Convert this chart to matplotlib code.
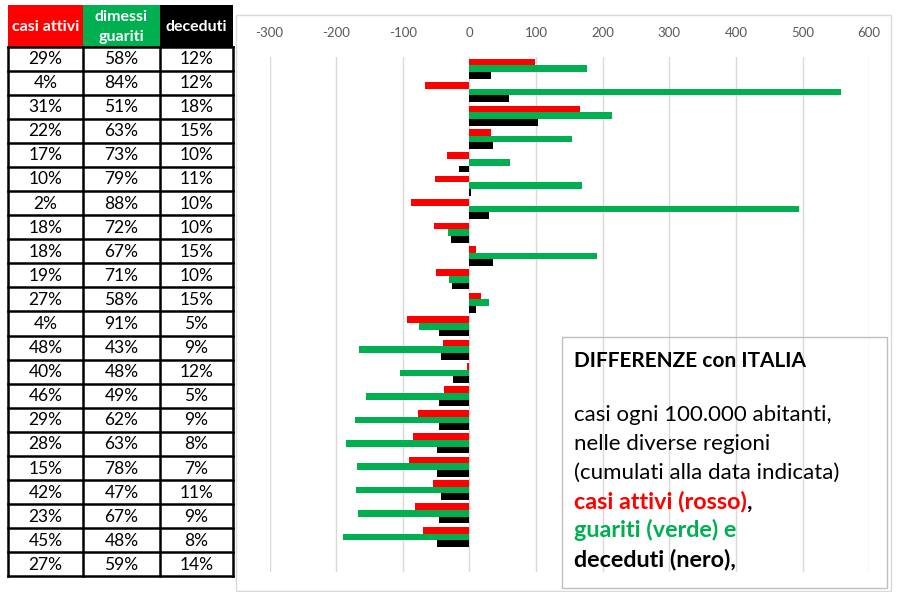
import numpy as np
import matplotlib
matplotlib.use('Agg')
import matplotlib.pyplot as plt
from matplotlib.patches import Rectangle

plt.rcParams['font.family'] = ['Lato', 'DejaVu Sans']

# quote percentuali (tabella a sinistra), ultima riga = Italia
casi_attivi_pct = [29, 4, 31, 22, 17, 10, 2, 18, 18, 19, 27, 4, 48, 40, 46, 29, 28, 15, 42, 23, 45, 27]
dimessi_pct = [58, 84, 51, 63, 73, 79, 88, 72, 67, 71, 58, 91, 43, 48, 49, 62, 63, 78, 47, 67, 48, 59]
deceduti_pct = [12, 12, 18, 15, 10, 11, 10, 10, 15, 10, 15, 5, 9, 12, 5, 9, 8, 7, 11, 9, 8, 14]

# differenze con Italia, casi ogni 100.000 abitanti
diff_attivi = [98, -66, 166, 32, -33, -52, -88, -53, 10, -50, 18, -94, -39, -4, -38, -77, -84, -90, -55, -81, -70, 0]
diff_guariti = [177, 558, 214, 154, 61, 169, 494, -32, 192, -31, 29, -76, -166, -104, -155, -171, -185, -168, -170, -167, -189, 0]
diff_deceduti = [32, 59, 103, 36, -16, 2, 30, -27, 36, -26, 10, -45, -42, -24, -46, -46, -48, -48, -42, -46, -48, 0]

x_ticks = [-300, -200, -100, 0, 100, 200, 300, 400, 500, 600]
header = ['casi attivi', 'dimessi\nguariti', 'deceduti']

ROSSO = '#FF0000'
VERDE = '#00B050'
NERO = '#000000'

W, H = 901, 592
fig = plt.figure(figsize=(W / 100, H / 100), dpi=100)

# grafico a barre
ax = fig.add_axes([269.5 / W, (H - 572) / H, 599.7 / W, 515 / H])
n = len(diff_attivi)
y = np.arange(n)
bh = 0.285
ax.barh(y - bh, diff_attivi, height=bh, color=ROSSO, zorder=2)
ax.barh(y, diff_guariti, height=bh, color=VERDE, zorder=2)
ax.barh(y + bh, diff_deceduti, height=bh, color=NERO, zorder=2)
ax.set_xlim(-300, 600)
ax.set_ylim(n - 0.5, -0.5)
ax.set_xticks(x_ticks)
ax.set_xticklabels([str(v) for v in x_ticks])
ax.xaxis.tick_top()
ax.tick_params(axis='x', length=0, pad=13, labelsize=9.5, labelcolor='#595959')
ax.set_yticks([])
ax.grid(axis='x', color='#D9D9D9', linewidth=1, zorder=0)
for s in ax.spines.values():
    s.set_visible(False)

# livello sovrapposto in pixel: tabella, cornici, casella di testo
ov = fig.add_axes([0, 0, 1, 1], zorder=5)
ov.set_xlim(0, W)
ov.set_ylim(H, 0)
ov.axis('off')
ov.patch.set_alpha(0)

# cornice area grafico
ov.add_patch(Rectangle((236, 15), 655, 576, fill=False, edgecolor='#D9D9D9', linewidth=1))

# tabella
col_x = [8, 83, 160, 233]
head_top, head_bot = 5, 46.5
row_h = 24.09
head_colors = [ROSSO, VERDE, NERO]
for j in range(3):
    ov.add_patch(Rectangle((col_x[j], head_top), col_x[j + 1] - col_x[j], head_bot - head_top,
                           facecolor=head_colors[j], edgecolor='none'))
    ov.text((col_x[j] + col_x[j + 1]) / 2, (head_top + head_bot) / 2 + 1, header[j],
            color='white', fontsize=11.5, fontweight='bold', ha='center', va='center',
            linespacing=1.55)

cols = [casi_attivi_pct, dimessi_pct, deceduti_pct]
n_rows = len(casi_attivi_pct)
bottom = head_bot + n_rows * row_h
for i in range(n_rows + 1):
    yy = head_bot + i * row_h
    ov.plot([col_x[0], col_x[-1]], [yy, yy], color='black', linewidth=1.8, solid_capstyle='projecting')
for xx in col_x:
    ov.plot([xx, xx], [head_bot, bottom], color='black', linewidth=1.8, solid_capstyle='projecting')
for i in range(n_rows):
    yc = head_bot + (i + 0.5) * row_h + 0.5
    for j in range(3):
        ov.text((col_x[j] + col_x[j + 1]) / 2, yc, f'{cols[j][i]}%', fontsize=12.5,
                ha='center', va='center', color='black')

# casella di testo
ov.add_patch(Rectangle((561.5, 337), 325.5, 251, fill=False, edgecolor='#BFBFBF', linewidth=1))
tx = 574.5
ov.text(tx, 367, 'DIFFERENZE con ITALIA', fontsize=15, fontweight='bold', va='baseline')
for yy, riga in zip([421, 450, 479], ['casi ogni 100.000 abitanti,', 'nelle diverse regioni',
                                      '(cumulati alla data indicata)']):
    ov.text(tx, yy, riga, fontsize=16, va='baseline')
fb = 16.8
t1 = ov.text(tx, 508.5, 'casi attivi (rosso)', fontsize=fb, fontweight='bold', color=ROSSO, va='baseline')
ov.annotate(',', xy=(1, 0), xycoords=t1, fontsize=fb, fontweight='bold', color='black',
            ha='left', va='bottom')
ov.text(tx, 537, 'guariti (verde) e', fontsize=fb, fontweight='bold', color=VERDE, va='baseline')
ov.text(tx, 566, 'deceduti (nero),', fontsize=fb, fontweight='bold', color='black', va='baseline')

fig.savefig('out.png', dpi=100)
